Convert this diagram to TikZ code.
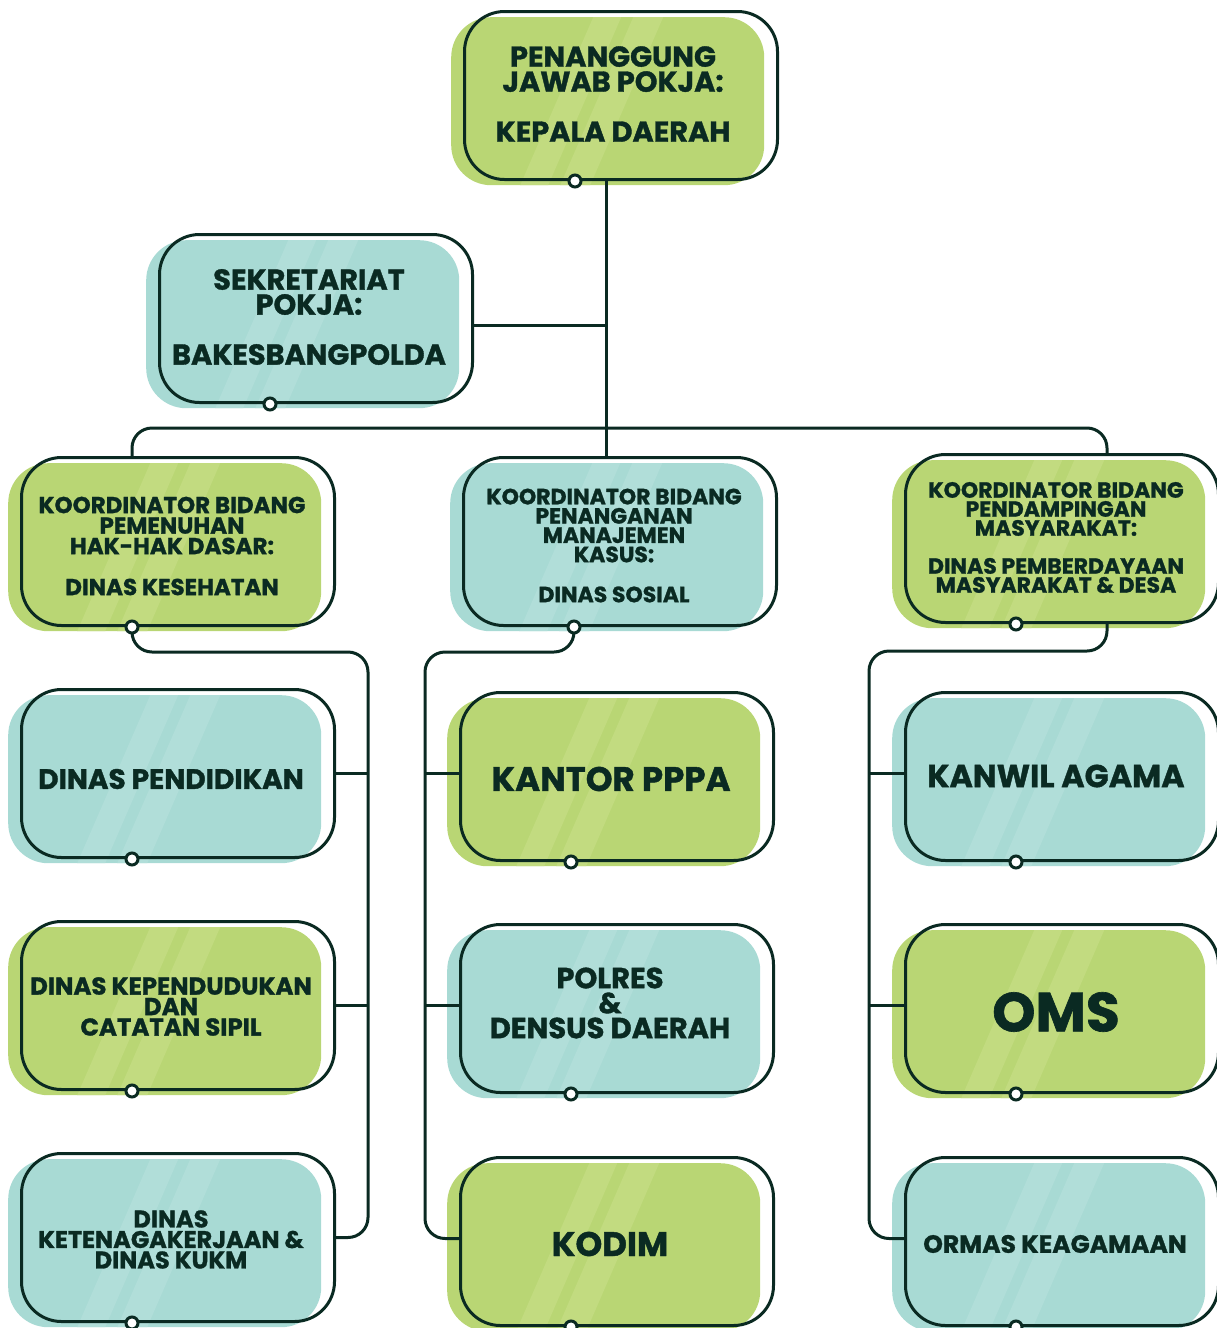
\documentclass[tikz,border=0pt]{standalone}
\usepackage{fontspec}
\setmainfont{Poppins}[BoldFeatures={FakeBold=1.2}]
\usetikzlibrary{calc}
\definecolor{dk}{HTML}{0A2A22}
\definecolor{gfill}{HTML}{B9D674}
\definecolor{gstripe}{HTML}{C2DB80}
\definecolor{tfill}{HTML}{A8DAD4}
\definecolor{tstripe}{HTML}{B1DED9}
\newcommand\mystripes[1]{%
 \fill[#1, sharp corners] ($(path picture bounding box.north west)+(142,0)$) -- ++(28,0) -- ($(path picture bounding box.south west)+(97,0)$) -- ++(-28,0) -- cycle;
 \fill[#1, sharp corners] ($(path picture bounding box.north west)+(182,0)$) -- ++(30,0) -- ($(path picture bounding box.south west)+(139,0)$) -- ++(-30,0) -- cycle;}
\newcommand\fs[2]{\fontsize{#1}{#2}\selectfont\bfseries}
\tikzset{
 fillbox/.style={rectangle, rounded corners=40pt, minimum width=313pt, minimum height=168pt, inner sep=0pt, anchor=north west},
 gbox/.style={fillbox, fill=gfill, path picture={\mystripes{gstripe}}},
 tbox/.style={fillbox, fill=tfill, path picture={\mystripes{tstripe}}},
 outbox/.style={rectangle, rounded corners=40pt, draw=dk, line width=3pt, minimum width=313pt, minimum height=168pt, inner sep=0pt, anchor=north west},
 conn/.style={draw=dk, line width=3pt, rounded corners=20pt},
 dot/.style={circle, draw=dk, fill=white, line width=3pt, minimum size=12pt, inner sep=0pt},
 lbl/.style={text=dk, align=center, inner sep=0pt},
}
\newcommand\obox[4]{%
 \node[#4box] (f#1) at (#2-12,#3+7) {};
 \node[outbox] (b#1) at (#2,#3) {};}
\begin{document}
\begin{tikzpicture}[x=1pt,y=-1pt]
\useasboundingbox (0,0) rectangle (1216,1328);
% boxes
\obox{1}{463}{10}{g}
\obox{2}{158}{233}{t}
\obox{3}{20}{456}{g}
\obox{4}{462}{456}{t}
\obox{5}{904}{453}{g}
\obox{6}{20}{688}{t}
\obox{7}{20}{920}{g}
\obox{8}{20}{1152}{t}
\obox{9}{459}{691}{g}
\obox{10}{459}{923}{t}
\obox{11}{459}{1156}{g}
\obox{12}{904}{691}{t}
\obox{13}{904}{923}{g}
\obox{14}{904}{1156}{t}
% texts
\node[lbl, font=\fs{28.8}{25}] (t1) at (613,94) {PENANGGUNG\\JAWAB POKJA:\\[25pt]KEPALA DAERAH};
\node[lbl, font=\fs{28.8}{25}] (t2) at (309,317) {SEKRETARIAT\\POKJA:\\[25pt]BAKESBANGPOLDA};
\node[lbl, font=\fs{23}{20.5}] (t3) at (172,546) {KOORDINATOR BIDANG\\PEMENUHAN\\HAK-HAK DASAR:\\[20.5pt]DINAS KESEHATAN};
\node[lbl, font=\fs{22}{19.3}] (t4) at (614,545.5) {KOORDINATOR BIDANG\\PENANGANAN\\MANAJEMEN\\KASUS:\\[20.7pt]DINAS SOSIAL};
\node[lbl, font=\fs{22}{19}] (t5) at (1056,537.5) {KOORDINATOR BIDANG\\PENDAMPINGAN\\MASYARAKAT:\\[19pt]DINAS PEMBERDAYAAN\\MASYARAKAT \& DESA};
\node[lbl, font=\fs{28}{28}] (t6) at (171,779) {DINAS PENDIDIKAN};
\node[lbl, font=\fs{24.4}{20.5}] (t7) at (171,1006.5) {DINAS KEPENDUDUKAN\\DAN\\CATATAN SIPIL};
\node[lbl, font=\fs{24}{20.5}] (t8) at (171,1239.5) {DINAS\\KETENAGAKERJAAN \&\\DINAS KUKM};
\node[lbl, font=\fs{34}{34}] (t9) at (611,779) {KANTOR PPPA};
\node[lbl, font=\fs{29}{25}] (t10) at (610,1003) {POLRES\\\&\\DENSUS DAERAH};
\node[lbl, font=\fs{34}{34}] (t11) at (610,1244) {KODIM};
\node[lbl, font=\fs{31.7}{32}] (t12) at (1056,776) {KANWIL AGAMA};
\node[lbl, font=\fs{55}{55}] (t13) at (1056,1012) {OMS};
\node[lbl, font=\fs{25}{25}] (t14) at (1055,1244) {ORMAS KEAGAMAAN};
% connector reference points
\coordinate (trunk) at ([xshift=-15pt]b1.south);
\coordinate (s2) at ([yshift=-7pt]b2.east);
\coordinate (bar) at (604,428);
\coordinate (x5n) at ([xshift=45pt]b5.north);
\coordinate (x5s) at ([xshift=45pt]b5.south);
\coordinate (lc) at (368,652);
\coordinate (cc) at (425,652);
\coordinate (rc) at (869,651);
\foreach \i in {1,...,14}{\coordinate (p\i) at ([xshift=-46pt]b\i.south);}
% connectors
\draw[conn] (trunk) -- (trunk |- b4.north);
\draw[conn] (s2) -- (s2 -| trunk);
\draw[conn] (p3 |- b3.north) -- (p3 |- bar) -- (x5n |- bar) -- (x5n);
\draw[conn] (p3) -- (p3 |- lc) -- (lc) -- (lc |- b8.east) -- (b8.east);
\draw[conn] (b6.east) -- (b6.east -| lc);
\draw[conn] (b7.east) -- (b7.east -| lc);
\draw[conn] (p4) -- (p4 |- cc) -- (cc) -- ([yshift=3pt]cc |- b11.west) -- ([yshift=3pt]b11.west);
\draw[conn] ([yshift=3pt]b9.west) -- ([yshift=3pt]b9.west -| cc);
\draw[conn] ([yshift=3pt]b10.west) -- ([yshift=3pt]b10.west -| cc);
\draw[conn] (x5s) -- (x5s |- rc) -- (rc) -- ([yshift=3pt]rc |- b14.west) -- ([yshift=3pt]b14.west);
\draw[conn] ([yshift=3pt]b12.west) -- ([yshift=3pt]b12.west -| rc);
\draw[conn] ([yshift=3pt]b13.west) -- ([yshift=3pt]b13.west -| rc);
% dots
\foreach \i in {1,...,14}{\node[dot] (c\i) at (p\i) {};}
\end{tikzpicture}
\end{document}
